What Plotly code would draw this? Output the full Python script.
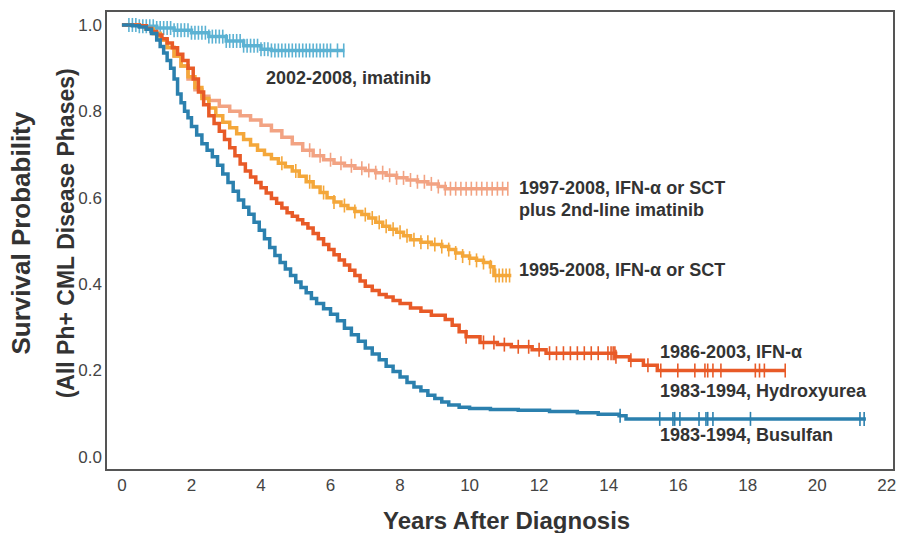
import numpy as np
import plotly.graph_objects as go

# ---------------- data ----------------
imatinib_t = [0, 0.5, 1.0, 1.5, 2.0, 2.5, 3.0, 3.5, 4.0, 4.3, 6.4]
imatinib_s = [1.0, 0.997, 0.993, 0.988, 0.982, 0.973, 0.963, 0.952, 0.944, 0.941, 0.941]
imatinib_cens = [0.2, 0.3, 0.4, 0.5, 0.6, 0.7, 0.8, 0.9, 1.0, 1.1, 1.2, 1.3, 1.4, 1.5, 1.6,
                 1.7, 1.8, 1.9, 2.0, 2.1, 2.2, 2.3, 2.4, 2.5, 2.6, 2.7, 2.8, 2.9, 3.0, 3.1,
                 3.2, 3.3, 3.4, 3.5, 3.6, 3.7, 3.8, 3.9, 4.0, 4.1, 4.2, 4.3, 4.4, 4.5, 4.6,
                 4.7, 4.8, 4.9, 5.0, 5.1, 5.2, 5.3, 5.4, 5.5, 5.6, 5.7, 5.8, 5.9, 6.0, 6.2, 6.38]

ifn_sct_im_t = [0, 0.5, 0.7, 0.9, 1.1, 1.3, 1.5, 1.7, 1.9, 2.1, 2.3, 2.5, 2.8, 3.1, 3.4, 3.7,
                4.0, 4.3, 4.6, 4.9, 5.2, 5.5, 5.8, 6.1, 6.4, 6.7, 7.0, 7.3, 7.6, 7.9, 8.2,
                8.5, 8.8, 9.1, 9.3, 11.1]
ifn_sct_im_s = [1.0, 0.998, 0.99, 0.98, 0.965, 0.948, 0.928, 0.905, 0.875, 0.85, 0.835, 0.825,
                0.812, 0.8, 0.79, 0.78, 0.768, 0.755, 0.74, 0.725, 0.71, 0.697, 0.688, 0.68,
                0.674, 0.668, 0.663, 0.658, 0.652, 0.646, 0.641, 0.637, 0.632, 0.626, 0.621, 0.621]
ifn_sct_im_cens = [5.4, 5.7, 6.0, 6.3, 6.6, 6.9, 7.1, 7.3, 7.5, 7.7, 7.9, 8.1, 8.3, 8.5, 8.7,
                   8.9, 9.1, 9.3, 9.45, 9.6, 9.75, 9.9, 10.05, 10.2, 10.35, 10.5, 10.65,
                   10.8, 10.95, 11.1]

ifn_sct_t = [0, 0.5, 0.7, 0.9, 1.1, 1.3, 1.5, 1.7, 1.9, 2.1, 2.3, 2.5, 2.7, 2.9, 3.1, 3.3,
             3.5, 3.7, 3.9, 4.1, 4.3, 4.5, 4.7, 4.9, 5.1, 5.3, 5.5, 5.7, 5.9, 6.1, 6.3, 6.5,
             6.7, 6.9, 7.1, 7.3, 7.5, 7.7, 7.9, 8.1, 8.3, 8.6, 8.9, 9.2, 9.4, 9.6, 9.8, 10.0,
             10.2, 10.4, 10.6, 10.7, 11.2]
ifn_sct_s = [1.0, 0.998, 0.99, 0.98, 0.965, 0.948, 0.928, 0.905, 0.88, 0.855, 0.83, 0.808,
             0.79, 0.775, 0.762, 0.748, 0.735, 0.722, 0.71, 0.7, 0.69, 0.68, 0.672, 0.662,
             0.65, 0.637, 0.625, 0.612, 0.6, 0.59, 0.582, 0.575, 0.568, 0.561, 0.553, 0.543,
             0.534, 0.527, 0.52, 0.512, 0.503, 0.497, 0.492, 0.487, 0.48, 0.472, 0.465, 0.46,
             0.455, 0.45, 0.44, 0.42, 0.42]
ifn_sct_cens = [4.6, 5.0, 5.4, 5.8, 6.1, 6.4, 6.7, 7.0, 7.2, 7.4, 7.6, 7.8, 8.0, 8.2, 8.4,
                8.6, 8.8, 9.0, 9.2, 9.4, 9.6, 9.8, 10.0, 10.2, 10.4, 10.6, 10.75, 10.85,
                10.95, 11.05, 11.15]

ifn_t = [0, 0.5, 0.7, 0.85, 1.0, 1.15, 1.3, 1.45, 1.6, 1.75, 1.9, 2.05, 2.2, 2.35, 2.5, 2.65,
         2.8, 2.95, 3.1, 3.25, 3.4, 3.55, 3.7, 3.85, 4.0, 4.15, 4.3, 4.45, 4.6, 4.75, 4.9,
         5.05, 5.2, 5.35, 5.5, 5.65, 5.8, 5.95, 6.1, 6.25, 6.4, 6.55, 6.7, 6.85, 7.0, 7.2,
         7.4, 7.6, 7.8, 8.0, 8.3, 8.6, 8.9, 9.3, 9.5, 9.7, 9.9, 10.3, 10.8, 11.2, 11.8, 12.2,
         13.8, 14.2, 14.6, 15.0, 15.4, 19.1]
ifn_s = [1.0, 0.998, 0.992, 0.985, 0.977, 0.968, 0.958, 0.947, 0.932, 0.918, 0.9, 0.875,
         0.845, 0.815, 0.79, 0.772, 0.754, 0.735, 0.716, 0.697, 0.678, 0.662, 0.648, 0.635,
         0.623, 0.611, 0.598, 0.587, 0.576, 0.565, 0.557, 0.549, 0.54, 0.53, 0.517, 0.505,
         0.492, 0.48, 0.468, 0.456, 0.444, 0.432, 0.42, 0.407, 0.395, 0.385, 0.376, 0.37,
         0.362, 0.355, 0.345, 0.337, 0.328, 0.318, 0.305, 0.29, 0.278, 0.265, 0.26, 0.255,
         0.248, 0.24, 0.24, 0.232, 0.224, 0.212, 0.2, 0.2]
ifn_cens = [9.9, 10.4, 10.7, 11.0, 11.4, 11.7, 12.0, 12.3, 12.5, 12.7, 12.9, 13.1, 13.3,
            13.5, 13.7, 13.98, 14.07, 14.13, 14.18, 14.21, 14.64, 15.13, 15.5, 15.99, 16.48,
            16.77, 16.85, 17.0, 17.23, 18.22, 18.34, 18.48, 19.08]

busulfan_t = [0, 0.3, 0.5, 0.7, 0.85, 1.0, 1.1, 1.2, 1.3, 1.4, 1.5, 1.6, 1.7, 1.8, 1.9, 2.0,
              2.15, 2.3, 2.45, 2.6, 2.75, 2.9, 3.05, 3.2, 3.35, 3.5, 3.65, 3.8, 3.95, 4.1,
              4.25, 4.4, 4.55, 4.7, 4.85, 5.0, 5.15, 5.3, 5.45, 5.6, 5.8, 6.0, 6.2, 6.4, 6.6,
              6.8, 7.0, 7.2, 7.4, 7.6, 7.8, 8.0, 8.2, 8.4, 8.6, 8.8, 9.0, 9.2, 9.4, 9.7, 10.0,
              10.6, 11.4, 12.3, 13.1, 13.7, 14.3, 14.5, 21.4]
busulfan_s = [1.0, 0.998, 0.995, 0.99, 0.98, 0.965, 0.95, 0.935, 0.918, 0.9, 0.875, 0.84,
              0.82, 0.8, 0.785, 0.765, 0.745, 0.725, 0.71, 0.695, 0.675, 0.655, 0.635, 0.615,
              0.595, 0.578, 0.562, 0.543, 0.525, 0.505, 0.485, 0.466, 0.45, 0.435, 0.42,
              0.405, 0.392, 0.38, 0.367, 0.355, 0.343, 0.33, 0.315, 0.298, 0.283, 0.268,
              0.252, 0.238, 0.225, 0.21, 0.198, 0.185, 0.172, 0.162, 0.153, 0.143, 0.135,
              0.127, 0.12, 0.115, 0.112, 0.11, 0.108, 0.105, 0.102, 0.099, 0.095, 0.088, 0.088]
busulfan_cens = [14.33, 15.47, 15.85, 15.9, 16.05, 16.6, 16.8, 16.85, 17.0, 18.08, 21.23, 21.35]

x_ticks = [0, 2, 4, 6, 8, 10, 12, 14, 16, 18, 20, 22]
y_ticks = [0.0, 0.2, 0.4, 0.6, 0.8, 1.0]

series = [
    ("2002-2008, imatinib", imatinib_t, imatinib_s, imatinib_cens, "#5cb2d3"),
    ("1997-2008, IFN-α or SCT plus 2nd-line imatinib", ifn_sct_im_t, ifn_sct_im_s, ifn_sct_im_cens, "#f2a383"),
    ("1995-2008, IFN-α or SCT", ifn_sct_t, ifn_sct_s, ifn_sct_cens, "#f4a73a"),
    ("1986-2003, IFN-α", ifn_t, ifn_s, ifn_cens, "#e85a27"),
    ("1983-1994, Busulfan", busulfan_t, busulfan_s, busulfan_cens, "#2b80ae"),
]

FONT = "Liberation Sans, Arial, sans-serif"

fig = go.Figure()
for name, t, s, cens, col in series:
    fig.add_trace(go.Scatter(x=t, y=s, mode="lines", line=dict(color=col, width=3.5, shape="hv"),
                             name=name, showlegend=False, hoverinfo="skip"))
    ta = np.array(t)
    sa = np.array(s)
    idx = np.searchsorted(ta, np.array(cens), side="right") - 1
    idx = np.clip(idx, 0, len(sa) - 1)
    fig.add_trace(go.Scatter(x=cens, y=sa[idx], mode="markers",
                             marker=dict(symbol="line-ns", size=10, line=dict(color=col, width=1.6)),
                             showlegend=False, hoverinfo="skip"))

lab_font = dict(family=FONT, size=18, color="#333333", weight="bold")
labels = [
    (4.1, 0.877, "2002-2008, imatinib"),
    (11.35, 0.622, "1997-2008, IFN-α or SCT"),
    (11.35, 0.571, "plus 2nd-line imatinib"),
    (11.35, 0.432, "1995-2008, IFN-α or SCT"),
    (15.42, 0.242, "1986-2003, IFN-α"),
    (15.42, 0.152, "1983-1994, Hydroxyurea"),
    (15.42, 0.050, "1983-1994, Busulfan"),
]
for x, y, txt in labels:
    fig.add_annotation(x=x, y=y, text=txt, showarrow=False, xanchor="left", yanchor="middle",
                       font=lab_font)

fig.add_annotation(xref="paper", yref="paper", x=0.508, y=-0.112, text="Years After Diagnosis",
                   showarrow=False, xanchor="center", yanchor="middle",
                   font=dict(family=FONT, size=24, color="#333333", weight="bold"))
fig.add_annotation(xref="paper", yref="paper", x=-0.109, y=0.516, text="Survival Probability",
                   showarrow=False, xanchor="center", yanchor="middle", textangle=-90,
                   font=dict(family=FONT, size=26, color="#333333", weight="bold"))
fig.add_annotation(xref="paper", yref="paper", x=-0.052, y=0.516, text="(All Ph+ CML Disease Phases)",
                   showarrow=False, xanchor="center", yanchor="middle", textangle=-90,
                   font=dict(family=FONT, size=23, color="#333333", weight="bold"))

fig.update_layout(
    width=901, height=533,
    margin=dict(l=107, r=5, t=12, b=64),
    paper_bgcolor="white", plot_bgcolor="white",
    xaxis=dict(range=[-0.43, 22.18], tickvals=x_ticks, showgrid=False, zeroline=False,
               showline=True, mirror=True, linecolor="#555555", linewidth=1.5, ticks="",
               tickfont=dict(family=FONT, size=17, color="#444444")),
    yaxis=dict(range=[-0.028, 1.03], tickvals=y_ticks, tickformat=".1f", showgrid=False,
               zeroline=False, showline=True, mirror=True, linecolor="#555555", linewidth=1.5,
               ticks="", tickfont=dict(family=FONT, size=17, color="#444444")),
)

fig.write_html("out.html", config={"displayModeBar": False},
               post_script="document.body.style.margin='0';document.body.style.overflow='hidden';")
